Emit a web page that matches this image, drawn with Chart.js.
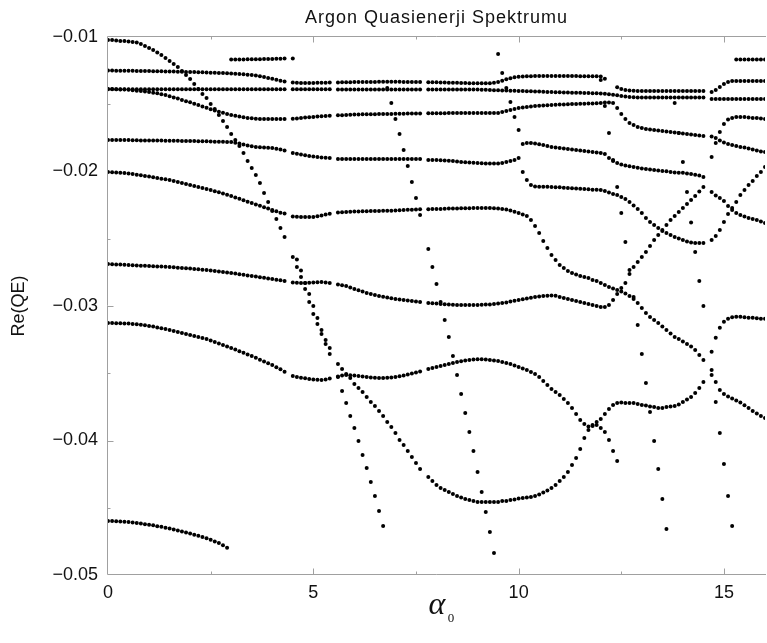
<!DOCTYPE html>
<html>
<head>
<meta charset="utf-8">
<title>Argon Quasienerji Spektrumu</title>
<script src="https://cdn.jsdelivr.net/npm/chart.js@4.4.1/dist/chart.umd.min.js"></script>
<style>
  html, body { margin: 0; padding: 0; background: #fff; }
  canvas { display: block; }
</style>
</head>
<body>
<canvas id="myChart" width="767" height="643"></canvas>
<script>
// alpha_0 grid shared by every eigenvalue track
const alpha = [
  0.0,0.1,0.2,0.3,0.4,0.5,0.6,0.7,0.8,0.9,
  1.0,1.1,1.2,1.3,1.4,1.5,1.6,1.7,1.8,1.9,
  2.0,2.1,2.2,2.3,2.4,2.5,2.6,2.7,2.8,2.9,
  3.0,3.1,3.2,3.3,3.4,3.5,3.6,3.7,3.8,3.9,
  4.0,4.1,4.2,4.3,4.4,4.5,4.6,4.7,4.8,4.9,
  5.0,5.1,5.2,5.3,5.4,5.5,5.6,5.7,5.8,5.9,
  6.0,6.1,6.2,6.3,6.4,6.5,6.6,6.7,6.8,6.9,
  7.0,7.1,7.2,7.3,7.4,7.5,7.6,7.7,7.8,7.9,
  8.0,8.1,8.2,8.3,8.4,8.5,8.6,8.7,8.8,8.9,
  9.0,9.1,9.2,9.3,9.4,9.5,9.6,9.7,9.8,9.9,
  10.0,10.1,10.2,10.3,10.4,10.5,10.6,10.7,10.8,10.9,
  11.0,11.1,11.2,11.3,11.4,11.5,11.6,11.7,11.8,11.9,
  12.0,12.1,12.2,12.3,12.4,12.5,12.6,12.7,12.8,12.9,
  13.0,13.1,13.2,13.3,13.4,13.5,13.6,13.7,13.8,13.9,
  14.0,14.1,14.2,14.3,14.4,14.5,14.6,14.7,14.8,14.9,
  15.0,15.1,15.2,15.3,15.4,15.5,15.6,15.7,15.8,15.9,
  16.0
];

const xTicks = [0, 5, 10, 15];
const yTicks = [-0.05, -0.04, -0.03, -0.02, -0.01];

// each track: first alpha index + Re(QE) values (null = no converged root)
const trackA = { start: 0, re: [
  -0.01022,-0.01022,-0.01026,-0.0103,-0.0103,-0.01033,-0.01037,-0.01041,-0.01052,-0.01067,
  -0.01082,-0.01097,-0.01115,-0.01134,-0.01156,-0.01178,-0.01201,-0.01223,-0.01253,-0.01283,
  -0.01312,-0.01349,-0.01387,-0.01424,-0.01453,-0.01498,-0.01535,-0.0158,-0.01625,-0.01669,
  -0.01721,-0.01766,-0.01811,-0.01862,-0.01922,-0.01974,-0.02026,-0.02086,-0.0216,-0.02227,
  -0.02294,-0.02353,-0.0242,-0.02487,null,-0.02636,-0.0271,-0.02784,-0.02873,-0.0297,
  -0.03059,-0.03133,-0.03208,-0.03282,-0.03357,null,-0.03528,-0.03632,-0.03721,-0.03818,
  -0.03907,-0.04004,-0.04107,-0.04204,-0.04308,-0.04413,-0.04524,-0.04636
]};

const trackC = { start: 46, re: [
  -0.02655,-0.02736,-0.02829,-0.02911,-0.03,-0.03089,-0.03178,-0.03253,-0.03312,null,
  -0.03431,-0.03469,-0.03506,-0.03536
]};

const trackT1 = { start: 0, re: [
  -0.01249,-0.01249,-0.0125,-0.0125,-0.0125,-0.01251,-0.01251,-0.01252,-0.01252,-0.01253,
  -0.01253,-0.01254,-0.01254,-0.01255,-0.01256,-0.01257,-0.01257,-0.01258,-0.01259,-0.0126,
  -0.0126,-0.01261,-0.01262,-0.01263,-0.01264,-0.01265,-0.01266,-0.01267,-0.01268,-0.0127,
  -0.01271,-0.01273,-0.01275,-0.01277,-0.0128,-0.01283,-0.01287,-0.01292,-0.01298,-0.01304,
  -0.0131,-0.01317,-0.01325,-0.0133,null,-0.01339,-0.01341,-0.01342,-0.01342,-0.01342,
  -0.01342,-0.01341,-0.0134,-0.0134,-0.01339,null,-0.01338,-0.01337,-0.01336,-0.01336,
  -0.01335,-0.01335,-0.01334,-0.01334,-0.01334,-0.01334,-0.01333,-0.01333,-0.01333,-0.01333,
  -0.01333,-0.01333,-0.01334,-0.01334,-0.01334,-0.01335,-0.01335,null,-0.01336,-0.01337,
  -0.01337,-0.01338,-0.01339,-0.0134,-0.0134,-0.01341,-0.01342,-0.01342,-0.01343,-0.01343,
  -0.01344,-0.01344,-0.01344,-0.01343,-0.0134,-0.01334,-0.01325,-0.01315,-0.01306,-0.013,
  -0.01296,-0.01294,-0.01292,-0.01291,-0.0129,-0.0129,-0.0129,-0.0129,-0.0129,-0.0129,
  -0.0129,-0.0129,-0.0129,-0.0129,-0.0129,-0.01291,-0.01291,-0.01291,-0.01292,-0.01292,
  -0.01293,-0.0131
]};

const trackT2 = { start: 0, re: [
  -0.01388,-0.01388,-0.01388,-0.01388,-0.01388,-0.01388,-0.01388,-0.01388,-0.01388,-0.01388,
  -0.01388,-0.01388,-0.01388,-0.01388,-0.01388,-0.01388,-0.01388,-0.01388,-0.01388,-0.01388,
  -0.01388,-0.01388,-0.01388,-0.01388,-0.01388,-0.01388,-0.01388,-0.01388,-0.01388,-0.01388,
  -0.01388,-0.01388,-0.01388,-0.01388,-0.01388,-0.01388,-0.01388,-0.01388,-0.01388,-0.01388,
  -0.01388,-0.01388,-0.01388,-0.01388,null,-0.01389,-0.01389,-0.01389,-0.01389,-0.01389,
  -0.01389,-0.01389,-0.01389,-0.01389,-0.01389,null,-0.0139,-0.0139,-0.0139,-0.0139,
  -0.0139,-0.0139,-0.0139,-0.0139,-0.0139,-0.0139,-0.0139,-0.0139,-0.0139,-0.0139,
  -0.0139,-0.0139,-0.0139,-0.0139,-0.0139,-0.0139,-0.0139,null,-0.0139,-0.0139,
  -0.0139,-0.0139,-0.0139,-0.0139,-0.0139,-0.0139,-0.0139,-0.0139,-0.0139,-0.0139,
  -0.01391,-0.01392,-0.01393,-0.01394,-0.01395,-0.01396,-0.01397,-0.01398,-0.01399,-0.014,
  -0.01401,-0.01402,-0.01403,-0.01404,-0.01405,-0.01406,-0.01407,-0.01408,-0.01409,-0.0141,
  -0.01411,-0.01412,-0.01413,-0.01414,-0.01414,-0.01415,-0.01416,-0.01417,-0.01418,-0.01419,
  -0.0142,-0.01422,-0.01425,-0.01429,-0.01434,-0.01439,-0.01443,-0.01446,-0.01448,-0.01449,
  -0.0145,-0.0145,-0.0145,-0.0145,-0.0145,-0.0145,-0.0145,-0.0145,-0.0145,-0.0145,
  -0.0145,-0.0145,-0.0145,-0.0145,-0.0145,-0.0145,null,-0.01461,-0.01461,-0.01461,
  -0.01461,-0.01461,-0.01461,-0.01461,-0.01461,-0.01461,-0.01461,-0.01461,-0.01461,-0.01461,
  -0.01461
]};

const trackT3 = { start: 124, re: [
  -0.01374,-0.01387,-0.01394,-0.01398,-0.014,-0.01401,
  -0.01402,-0.01402,-0.01402,-0.01402,-0.01402,-0.01402,-0.01402,-0.01402,
  -0.01402,-0.01402,-0.01402,-0.01402,-0.01402,-0.01402,-0.01402,-0.01402,
  null,-0.01409,-0.01394,-0.01372,-0.01349,-0.01335,-0.01327,
  -0.01327,-0.01327,-0.01327,-0.01327,-0.01327,-0.01327,-0.01327,-0.01327
]};

const trackR1a = { start: 30, re: [
  -0.01168,-0.01168,-0.01167,-0.01167,-0.01166,-0.01166,-0.01165,-0.01165,-0.01164,-0.01163,
  -0.01163,-0.01162,-0.01161,-0.0116,null,-0.0116
]};

const trackR1b = { start: 153, re: [
  -0.01168,-0.01167,-0.01167,-0.01167,-0.01167,-0.01168,-0.01168,-0.01168
]};

const trackD = { start: 0, re: [
  -0.01387,-0.01387,-0.01388,-0.0139,-0.01391,-0.01393,-0.01396,-0.01399,-0.01401,-0.01405,
  -0.01409,-0.01414,-0.01419,-0.01425,-0.01431,-0.0144,-0.01449,-0.01458,-0.01468,-0.01477,
  -0.01486,-0.01496,-0.01506,-0.01516,-0.01526,-0.01537,-0.01546,-0.01555,-0.01564,-0.01572,
  -0.0158,-0.01586,-0.01591,-0.01596,-0.01602,-0.01605,-0.01607,-0.0161,-0.0161,-0.0161,
  -0.0161,-0.0161,-0.0161,-0.0161,null,-0.01608,-0.01606,-0.01602,-0.01599,-0.01596,
  -0.01595,-0.01592,-0.0159,-0.01587,-0.01586,null,-0.01582,-0.01581,-0.01579,-0.01578,
  -0.01576,-0.01576,-0.01575,-0.01575,-0.01574,-0.01574,-0.01573,-0.01573,-0.01572,-0.01572,
  -0.01571,-0.0157,-0.0157,-0.01569,-0.01569,-0.01568,-0.01568,null,-0.01567,-0.01567,
  -0.01566,-0.01566,-0.01566,-0.01565,-0.01565,-0.01565,-0.01565,-0.01565,-0.01565,-0.01565,
  -0.01565,-0.01565,-0.01565,-0.01565,-0.01565,-0.01565,-0.01558,-0.0155,-0.01543,-0.01535,
  -0.01528,-0.01524,-0.0152,-0.01517,-0.01513,-0.01511,-0.01509,-0.01507,-0.01506,-0.01504,
  -0.01502,-0.01501,-0.015,-0.01499,-0.01498,-0.01497,-0.01496,-0.01495,-0.01494,-0.01492,
  -0.01491,-0.01487,-0.01487,-0.01491,-0.01528,-0.01572,-0.0161,-0.01639,-0.01654,-0.01669,
  -0.01677,-0.01684,-0.01688,-0.01692,-0.01695,-0.01699,-0.01703,-0.01706,-0.0171,-0.01714,
  -0.01717,-0.01721,-0.01725,-0.01729,-0.01732,-0.01736,null,-0.0174,-0.01751,-0.0177,
  -0.01784,-0.01796,-0.01803,-0.0181,-0.01818,-0.01821,-0.01829,-0.01836,-0.01844,-0.01851,
  -0.01855
]};

const trackM1 = { start: 0, re: [
  -0.01766,-0.01766,-0.01766,-0.01766,-0.01766,-0.01766,-0.01767,-0.01768,-0.01769,-0.0177,
  -0.0177,-0.0177,-0.0177,-0.0177,-0.01771,-0.01771,-0.01772,-0.01772,-0.01773,-0.01773,
  -0.01773,-0.01774,-0.01775,-0.01776,-0.01776,-0.01777,-0.01778,-0.01779,-0.01779,-0.0178,
  -0.01781,-0.01786,-0.01792,-0.01799,-0.01807,-0.01813,-0.01818,-0.0182,-0.01822,-0.01824,
  -0.01825,-0.0183,-0.01836,-0.01844,null,-0.01863,-0.01868,-0.01874,-0.01879,-0.01885,
  -0.01889,-0.01892,-0.01896,-0.01898,-0.019,null,-0.01907,-0.01907,-0.01907,-0.01907,
  -0.01907,-0.01907,-0.01907,-0.01907,-0.01907,-0.01907,-0.01907,-0.01907,-0.01907,-0.01907,
  -0.01907,-0.01907,-0.01907,-0.01907,-0.01907,-0.01907,-0.01907,null,-0.01915,-0.01915,
  -0.01915,-0.01916,-0.01918,-0.0192,-0.01922,-0.01926,-0.0193,-0.01932,-0.01934,-0.01935,
  -0.01937,-0.01938,-0.0194,-0.0194,-0.0194,-0.0194,-0.01937,-0.0193,-0.01922,-0.01915,
  -0.019,-0.02004,-0.02063,-0.021,-0.02111,-0.02113,-0.02113,-0.02114,-0.02115,-0.02117,
  -0.02118,-0.0212,-0.02123,-0.02124,-0.02126,-0.02128,-0.0213,-0.02132,-0.02135,-0.02136,
  -0.02138,-0.02145,-0.02156,-0.02167,-0.02175,-0.0219,-0.02205,-0.02227,-0.02253,-0.02279,
  -0.02309,-0.02346,-0.02375,-0.02398,-0.0242,-0.02442,-0.02457,-0.02472,-0.02487,-0.02498,
  -0.02509,-0.0252,-0.02528,-0.02532,-0.02532,-0.02532
]};

const trackM1r = { start: 102, re: [
  -0.01788,-0.01788,-0.01792,-0.01797,-0.01803,-0.0181,-0.01818,-0.01822,-0.01825,-0.01829,
  -0.01833,-0.01836,-0.0184,-0.01844,-0.01848,-0.01851,-0.01855,-0.01859,-0.01863,-0.0187,
  -0.019,-0.01922,-0.01937,-0.01948,-0.01955,-0.01961,-0.01966,-0.01972,-0.01977,-0.01981,
  -0.01985,-0.01988,-0.01992,-0.01996,-0.01999,-0.02003,-0.02007,-0.02009,-0.0201,-0.02014,
  -0.02018,-0.02024,-0.02029,-0.0204
]};

const trackM1x = { start: 147, re: [
  -0.02152,-0.02178,-0.02197,-0.02219,-0.02256,-0.02286,-0.02309,-0.02324,-0.02335,-0.02346,
  -0.02353,-0.02361,-0.02372,-0.02383
]};

const trackR2 = { start: 147, re: [
  -0.02509,-0.0248,-0.02435,-0.02375,-0.02316,-0.02271,-0.02227,-0.02175,-0.02138,-0.021,
  -0.02071,-0.02034,-0.02004,-0.01967
]};

const trackR3 = { start: 147, re: [
  -0.01892,-0.01788,-0.01706,-0.01647,-0.01613,-0.01602,-0.01595,-0.01595,-0.01595,-0.01599,
  -0.01602,-0.01602,-0.01606,-0.0161
]};

const trackM2 = { start: 0, re: [
  -0.02004,-0.02005,-0.02007,-0.0201,-0.02012,-0.02015,-0.02019,-0.02024,-0.02028,-0.02033,
  -0.02037,-0.02042,-0.02048,-0.02053,-0.02058,-0.02063,-0.02071,-0.02078,-0.02086,-0.02093,
  -0.021,-0.02108,-0.02115,-0.02123,-0.0213,-0.02138,-0.02147,-0.02155,-0.02164,-0.02173,
  -0.02182,-0.02193,-0.02203,-0.02213,-0.02224,-0.02234,-0.02245,-0.02255,-0.02265,-0.02276,
  -0.02286,-0.02296,-0.02306,-0.02312,null,-0.02335,-0.02337,-0.02338,-0.02338,-0.02338,
  -0.02338,-0.02333,-0.02327,-0.0232,-0.02315,null,-0.02305,-0.02303,-0.02301,-0.02299,
  -0.02297,-0.02297,-0.02296,-0.02295,-0.02294,-0.02294,-0.02293,-0.02292,-0.02291,-0.02291,
  -0.0229,-0.02288,-0.02287,-0.02285,-0.02284,-0.02282,-0.02281,null,-0.0228,-0.02279,
  -0.02279,-0.02278,-0.02277,-0.02276,-0.02276,-0.02275,-0.02274,-0.02273,-0.02273,-0.02272,
  -0.02271,-0.02271,-0.02271,-0.02272,-0.02273,-0.02275,-0.02279,-0.02282,-0.0229,-0.02299,
  -0.02309,-0.0232,-0.02331,-0.0236,-0.02405,-0.02457,-0.02517,-0.02568,-0.02621,-0.02658,
  -0.02695,-0.02717,-0.0274,-0.02755,-0.02766,-0.02777,-0.02784,-0.02792,-0.02807,-0.02814,
  -0.02829,-0.02844,-0.02859,-0.0287,-0.02881,-0.02892,-0.02907,-0.02926,-0.02948,-0.02978,
  -0.03015,-0.03052,-0.03082,-0.03104,-0.03127,-0.03153,-0.03179,-0.03205,-0.03231,-0.03246,
  -0.03264,-0.03283,-0.03302,-0.03327,-0.03365,-0.03402
]};

const trackM2x = { start: 147, re: [
  -0.03513,-0.03565,-0.03625,-0.03654,-0.03673,-0.03688,-0.03703,-0.03718,-0.03737,-0.03759,
  -0.03781,-0.038,-0.03818,-0.03833
]};

const trackM3 = { start: 0, re: [
  -0.02688,-0.02689,-0.02691,-0.02692,-0.02694,-0.02695,-0.02697,-0.02698,-0.027,-0.02701,
  -0.02703,-0.02704,-0.02706,-0.02707,-0.02709,-0.0271,-0.02712,-0.02715,-0.02717,-0.02719,
  -0.02721,-0.02724,-0.02727,-0.0273,-0.02733,-0.02736,-0.0274,-0.02743,-0.02747,-0.02751,
  -0.02755,-0.02759,-0.02764,-0.02768,-0.02773,-0.02777,-0.02781,-0.02786,-0.0279,-0.02795,
  -0.02799,-0.02805,-0.02809,-0.02814,null,-0.02825,-0.02828,-0.02829,-0.02829,-0.02828,
  -0.02825,-0.02824,-0.02822,-0.02825,-0.02829,null,-0.0284,-0.02846,-0.02851,-0.02862,
  -0.02873,-0.02883,-0.02893,-0.02903,-0.02911,-0.02918,-0.02926,-0.02931,-0.02937,-0.02942,
  -0.02948,-0.02951,-0.02955,-0.02959,-0.02963,-0.02966,-0.0297,null,-0.02978,-0.0298,
  -0.02982,-0.02985,-0.02987,-0.02989,-0.02991,-0.02992,-0.02993,-0.02993,-0.02993,-0.02993,
  -0.02993,-0.02991,-0.02989,-0.02988,-0.02986,-0.02982,-0.02978,-0.02974,-0.02966,-0.02961,
  -0.02955,-0.0295,-0.02944,-0.02939,-0.02933,-0.0293,-0.02926,-0.02924,-0.02922,-0.02924,
  -0.02933,-0.02941,-0.02948,-0.02955,-0.02963,-0.0297,-0.02978,-0.02985,-0.02993,-0.03,
  -0.03007,-0.03007,-0.02993,-0.02955,-0.02911,-0.02866,-0.02829,-0.02762,-0.0271,-0.02673,
  -0.02636,-0.02599,-0.02554,-0.02509,-0.02472,-0.02435,-0.02398,-0.0236,-0.02331,-0.02301,
  -0.02271,-0.02242,-0.02212,-0.02182,-0.02149,-0.02115
]};

const trackB = { start: 0, re: [
  -0.03126,-0.03127,-0.03128,-0.03128,-0.0313,-0.03131,-0.03133,-0.03136,-0.03139,-0.03144,
  -0.03148,-0.03153,-0.03159,-0.03165,-0.03171,-0.03178,-0.03186,-0.03193,-0.032,-0.03208,
  -0.03215,-0.03223,-0.0323,-0.03238,-0.03245,-0.03256,-0.03268,-0.03279,-0.0329,-0.03301,
  -0.03312,-0.03324,-0.03336,-0.03348,-0.0336,-0.03372,-0.03385,-0.03399,-0.03412,-0.03425,
  -0.03439,-0.03455,-0.03471,-0.03488,null,-0.03521,-0.03528,-0.03534,-0.03538,-0.03543,
  -0.03546,-0.03549,-0.0355,-0.03546,-0.03539,null,-0.03524,-0.03517,-0.03513,-0.03515,
  -0.03517,-0.03521,-0.03524,-0.03528,-0.03532,-0.03534,-0.03536,-0.03536,-0.03534,-0.03531,
  -0.03528,-0.03522,-0.03516,-0.0351,-0.03502,-0.03495,-0.03487,null,-0.03469,-0.03461,
  -0.03454,-0.03446,-0.03439,-0.03432,-0.03424,-0.03417,-0.03411,-0.03406,-0.03402,-0.03398,
  -0.03396,-0.03396,-0.03398,-0.03402,-0.03406,-0.03409,-0.03417,-0.03424,-0.03432,-0.03442,
  -0.03454,-0.03465,-0.03476,-0.03491,-0.03506,-0.03528,-0.03558,-0.03587,-0.03617,-0.03639,
  -0.03662,-0.03691,-0.03721,-0.03758,-0.03803,-0.03848,-0.03877,-0.03896,-0.03892,-0.03885,
  -0.03907,-0.03937,-0.03996,-0.04078,-0.04153
]};

const trackBowl = { start: 60, re: [
  -0.0358,-0.0361,-0.03639,-0.03677,-0.03714,-0.03744,-0.03781,-0.03818,-0.03863,-0.039,
  -0.03944,-0.03996,-0.04034,-0.04078,-0.04123,-0.04167,-0.04212,null,-0.04271,-0.04301,
  -0.04331,-0.04353,-0.04368,-0.04383,-0.04398,-0.04413,-0.04424,-0.04435,-0.04442,-0.0445,
  -0.04457,-0.04457,-0.04457,-0.04457,-0.04457,-0.04457,-0.0445,-0.0445,-0.04442,-0.04439,
  -0.04431,-0.04428,-0.04424,-0.0442,-0.04413,-0.04402,-0.04387,-0.04372,-0.04353,-0.04331,
  -0.04301,-0.04271,-0.04234,-0.04182,-0.0413,-0.04063,-0.03981,-0.03922,-0.03885,-0.03863,
  -0.0384,-0.03803,-0.03766,-0.03736,-0.03721,-0.03717,-0.03721,-0.03721,-0.03721,-0.03729,
  -0.03736,-0.0374,-0.03748,-0.03751,-0.03759,-0.03759,-0.03751,-0.03748,-0.03744,-0.03732,
  -0.03714,-0.03695,-0.03677,-0.03647,-0.0361,-0.03565,null,-0.0334,-0.03236,-0.03162,
  -0.03117,-0.03094,-0.03083,-0.0308,-0.0308,-0.03083,-0.03087,-0.03087,-0.03091,-0.03094,
  -0.03094
]};

// steep, nearly vertical tracks
const trackS0 = { start: 68, re: [
  -0.01379,-0.0149,-0.0161,-0.01721,-0.0184,-0.01959,-0.02078,-0.02197,-0.02323,null,
  -0.02576,-0.0271,-0.02836,-0.0297,-0.03104,-0.0323,-0.03372,-0.03513,-0.03654,-0.03796,
  -0.03937,-0.04078,-0.04234,-0.04383,-0.04532,-0.0468,-0.04837
]};

const trackS1 = { start: 95, re: [
  -0.01126,-0.01268,-0.01379,-0.01483,-0.01595,-0.01692,-0.01796
]};

const trackS3 = { start: 120, re: [
  -0.0132,-0.01513,-0.01714,-0.01915,-0.02115,-0.02309,-0.02524,-0.02732,-0.02933,-0.03141,
  -0.03357,-0.03573,-0.03788,-0.04004,-0.04212,-0.04435,-0.04658
]};

const trackS4 = { start: 138, re: [
  -0.0149,-0.01714,-0.0193,-0.02152,-0.0238,-0.02599,-0.02814,-0.03,null,-0.03476,
  -0.03714,-0.03944,-0.04175,-0.04413,-0.04636
]};

const trackBottom = { start: 0, re: [
  -0.04599,-0.04599,-0.046,-0.04602,-0.04604,-0.04606,-0.0461,-0.04613,-0.04617,-0.04622,
  -0.04626,-0.04631,-0.04637,-0.04642,-0.04648,-0.04655,-0.04662,-0.04669,-0.04677,-0.04684,
  -0.04692,-0.047,-0.04709,-0.04718,-0.04727,-0.04738,-0.0475,-0.04763,-0.04779,-0.04797
]};

const tracks = [
  trackA, trackC, trackT1, trackT2, trackT3, trackR1a, trackR1b, trackD,
  trackM1, trackM1r, trackM1x, trackR2, trackR3, trackM2, trackM2x, trackM3,
  trackB, trackBowl, trackS0, trackS1, trackS3, trackS4, trackBottom
];

const datasets = tracks.map(t => ({
  data: t.re
    .map((v, i) => ({ x: alpha[t.start + i], y: v }))
    .filter(p => p.y !== null),
  pointRadius: 2,
  pointHoverRadius: 2,
  pointBackgroundColor: '#000',
  pointBorderWidth: 0,
  showLine: false
}));

const sansFont = '"Liberation Sans", Arial, sans-serif';
const tickFont = { family: sansFont, size: 18 };

// frame (left, top, bottom), inward tick marks and the captions
const framePlugin = {
  id: 'frame',
  beforeDatasetsDraw(chart) {
    const { ctx, chartArea: a, scales: { x, y } } = chart;
    const l = a.left - 0.5, t = a.top - 0.5, b = a.bottom - 0.5;
    ctx.save();
    ctx.strokeStyle = '#a0a0a0';
    ctx.lineWidth = 1;
    ctx.beginPath();
    ctx.moveTo(a.right + 1, t); ctx.lineTo(l, t); ctx.lineTo(l, b); ctx.lineTo(a.right + 1, b);
    [2.5, 5, 7.5, 10, 12.5, 15].forEach(v => {
      const px = Math.round(x.getPixelForValue(v)) + 0.5;
      const len = v % 5 === 0 ? 6 : 3;
      ctx.moveTo(px, b); ctx.lineTo(px, b - len);
      ctx.moveTo(px, t); ctx.lineTo(px, t + len);
    });
    [-0.045, -0.04, -0.035, -0.03, -0.025, -0.02, -0.015].forEach(v => {
      const py = Math.round(y.getPixelForValue(v)) + 0.5;
      const major = Math.abs(Math.round(v * 100) - v * 100) < 1e-6;
      ctx.moveTo(l, py); ctx.lineTo(l + (major ? 6 : 3), py);
    });
    ctx.stroke();
    ctx.restore();
  },
  afterDraw(chart) {
    const { ctx, chartArea: a } = chart;
    ctx.save();
    ctx.fillStyle = '#111';
    ctx.textAlign = 'center';
    ctx.textBaseline = 'middle';
    ctx.font = '18px ' + sansFont;
    ctx.letterSpacing = '1px';
    ctx.fillText('Argon Quasienerji Spektrumu', (a.left + a.right) / 2, 18);
    ctx.letterSpacing = '0px';

    ctx.save();
    ctx.translate(19, (a.top + a.bottom) / 2);
    ctx.rotate(-Math.PI / 2);
    ctx.font = '18px ' + sansFont;
    ctx.fillText('Re(QE)', 0, 0);
    ctx.restore();

    ctx.font = 'italic 32px "Liberation Serif", "DejaVu Serif", serif';
    ctx.fillText('\u03b1', 437, 606);
    ctx.font = '13px "Liberation Serif", "DejaVu Serif", serif';
    ctx.fillText('0', 451, 619);
    ctx.restore();
  }
};

const myChart = new Chart(document.getElementById('myChart'), {
  type: 'scatter',
  data: { datasets: datasets },
  options: {
    responsive: false,
    animation: false,
    devicePixelRatio: 1,
    layout: { padding: { top: 37, right: 0, bottom: 0, left: 0 } },
    plugins: {
      legend: { display: false },
      tooltip: { enabled: false },
      title: { display: false }
    },
    events: [],
    scales: {
      x: {
        type: 'linear',
        min: 0,
        max: 16,
        afterFit: s => { s.height = 68; },
        afterBuildTicks: s => { s.ticks = xTicks.map(v => ({ value: v })); },
        grid: { display: false, drawTicks: false },
        border: { display: false },
        ticks: { padding: 7, color: '#111', font: tickFont, maxRotation: 0 }
      },
      y: {
        type: 'linear',
        min: -0.05,
        max: -0.01,
        afterFit: s => { s.width = 108; },
        afterBuildTicks: s => { s.ticks = yTicks.map(v => ({ value: v })); },
        grid: { display: false, drawTicks: false },
        border: { display: false },
        ticks: {
          padding: 10,
          color: '#111',
          font: tickFont,
          callback: v => v.toFixed(2).replace('-', '\u2212')
        }
      }
    }
  },
  plugins: [framePlugin]
});
</script>
</body>
</html>
